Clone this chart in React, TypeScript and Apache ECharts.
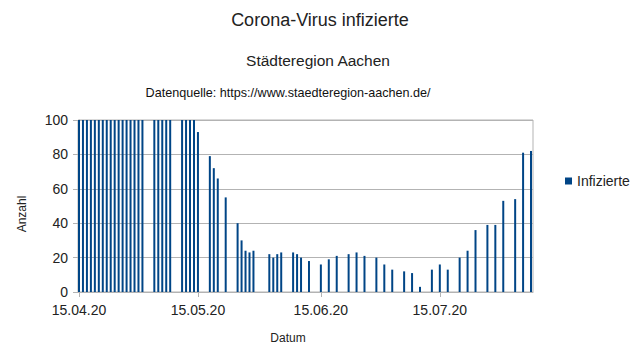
import React, { useEffect, useRef } from "react";
import * as echarts from "echarts";

const startDate = "2020-04-15";
const dates = [
  "2020-04-15", "2020-04-16", "2020-04-17", "2020-04-18", "2020-04-19", "2020-04-20",
  "2020-04-21", "2020-04-22", "2020-04-23", "2020-04-24", "2020-04-25", "2020-04-26",
  "2020-04-27", "2020-04-28", "2020-04-29", "2020-04-30", "2020-05-01",
  "2020-05-04", "2020-05-05", "2020-05-06", "2020-05-07", "2020-05-08",
  "2020-05-11", "2020-05-12", "2020-05-13", "2020-05-14", "2020-05-15",
  "2020-05-18", "2020-05-19", "2020-05-20", "2020-05-22",
  "2020-05-25", "2020-05-26", "2020-05-27", "2020-05-28", "2020-05-29",
  "2020-06-02", "2020-06-03", "2020-06-04", "2020-06-05",
  "2020-06-08", "2020-06-09", "2020-06-10", "2020-06-12",
  "2020-06-15", "2020-06-17", "2020-06-19",
  "2020-06-22", "2020-06-24", "2020-06-26",
  "2020-06-29", "2020-07-01", "2020-07-03",
  "2020-07-06", "2020-07-08", "2020-07-10",
  "2020-07-13", "2020-07-15", "2020-07-17",
  "2020-07-20", "2020-07-22", "2020-07-24",
  "2020-07-27", "2020-07-29", "2020-07-31",
  "2020-08-03", "2020-08-05", "2020-08-07",
];
const infizierte = [
  640, 615, 590, 565, 545, 520, 490, 460, 430, 405, 380, 350, 320, 290, 265, 245, 225,
  195, 180, 165, 152, 140,
  126, 118, 110, 104, 93,
  79, 72, 66, 55,
  40, 30, 24, 23, 24,
  22, 20, 22, 23,
  23, 22, 20, 18,
  16, 19, 21,
  22, 23, 21,
  20, 16, 13,
  12, 11, 3,
  13, 16, 13,
  20, 24, 36,
  39, 39, 53,
  54, 81, 82,
];
const tickDates = ["2020-04-15", "2020-05-15", "2020-06-15", "2020-07-15"];
const yTicks = [0, 20, 40, 60, 80, 100];

const dayMs = 86400000;
const toDay = (d: string) => (Date.parse(d) - Date.parse(startDate)) / dayMs;
const fmt = (v: number) => {
  const d = new Date(Date.parse(startDate) + Math.round(v) * dayMs);
  const dd = String(d.getUTCDate()).padStart(2, "0");
  const mm = String(d.getUTCMonth() + 1).padStart(2, "0");
  const yy = String(d.getUTCFullYear() % 100).padStart(2, "0");
  return `${dd}.${mm}.${yy}`;
};

const FONT = "Liberation Sans";

export default function App() {
  const ref = useRef<HTMLDivElement>(null);
  useEffect(() => {
    const chart = echarts.init(ref.current!, undefined, { renderer: "svg" });
    const tickVals = tickDates.map(toDay);
    chart.setOption({
      animation: false,
      backgroundColor: "#ffffff",
      textStyle: { fontFamily: FONT },
      grid: {
        left: 78,
        right: 107,
        top: 120,
        bottom: 71,
        show: true,
        borderColor: "#b3b3b3",
        borderWidth: 1,
      },
      legend: {
        data: ["Infizierte"],
        left: 560,
        top: 169,
        itemWidth: 7,
        itemHeight: 7,
        icon: "rect",
        textStyle: { fontSize: 14, color: "#222", fontFamily: FONT },
      },
      xAxis: {
        type: "value",
        min: -0.25,
        max: toDay("2020-08-07") + 0.5,
        axisLine: { show: true, onZero: false, lineStyle: { color: "#b3b3b3" } },
        axisTick: { show: true, customValues: tickVals, length: 5, lineStyle: { color: "#b3b3b3" } },
        axisLabel: {
          customValues: tickVals,
          formatter: (v: number) => fmt(v),
          fontSize: 14,
          color: "#222",
          margin: 11,
          fontFamily: FONT,
        },
        splitLine: { show: false },
      },
      yAxis: {
        type: "value",
        min: 0,
        max: 100,
        interval: 20,
        axisLine: { show: true, lineStyle: { color: "#b3b3b3" } },
        axisTick: { show: true, length: 6, lineStyle: { color: "#b3b3b3" } },
        axisLabel: {
          fontSize: 14,
          color: "#222",
          margin: 10,
          fontFamily: FONT,
          customValues: yTicks,
        },
        splitLine: { show: true, lineStyle: { color: "#b3b3b3" } },
      },
      series: [
        {
          name: "Infizierte",
          type: "bar",
          barWidth: 2,
          clip: true,
          itemStyle: { color: "#004586" },
          data: dates.map((d, i) => [toDay(d), infizierte[i]]),
        },
      ],
      graphic: [
        {
          type: "text",
          x: 320,
          y: 20,
          style: {
            text: "Corona-Virus infizierte",
            fontSize: 18,
            fontFamily: FONT,
            fill: "#222",
            textAlign: "center",
            textVerticalAlign: "middle",
          },
        },
        {
          type: "text",
          x: 318,
          y: 60,
          style: {
            text: "Städteregion Aachen",
            fontSize: 15.5,
            fontFamily: FONT,
            fill: "#222",
            textAlign: "center",
            textVerticalAlign: "middle",
          },
        },
        {
          type: "text",
          x: 288,
          y: 93,
          style: {
            text: "Datenquelle: https://www.staedteregion-aachen.de/",
            fontSize: 12.6,
            fontFamily: FONT,
            fill: "#111",
            textAlign: "center",
            textVerticalAlign: "middle",
          },
        },
        {
          type: "text",
          x: 288,
          y: 338,
          style: {
            text: "Datum",
            fontSize: 12,
            fontFamily: FONT,
            fill: "#222",
            textAlign: "center",
            textVerticalAlign: "middle",
          },
        },
        {
          type: "text",
          x: 22,
          y: 214,
          rotation: Math.PI / 2,
          style: {
            text: "Anzahl",
            fontSize: 12,
            fontFamily: FONT,
            fill: "#222",
            textAlign: "center",
            textVerticalAlign: "middle",
          },
        },
      ],
    });
    return () => chart.dispose();
  }, []);
  return <div ref={ref} style={{ width: 640, height: 363, position: "absolute", left: 0, top: 0 }} />;
}
